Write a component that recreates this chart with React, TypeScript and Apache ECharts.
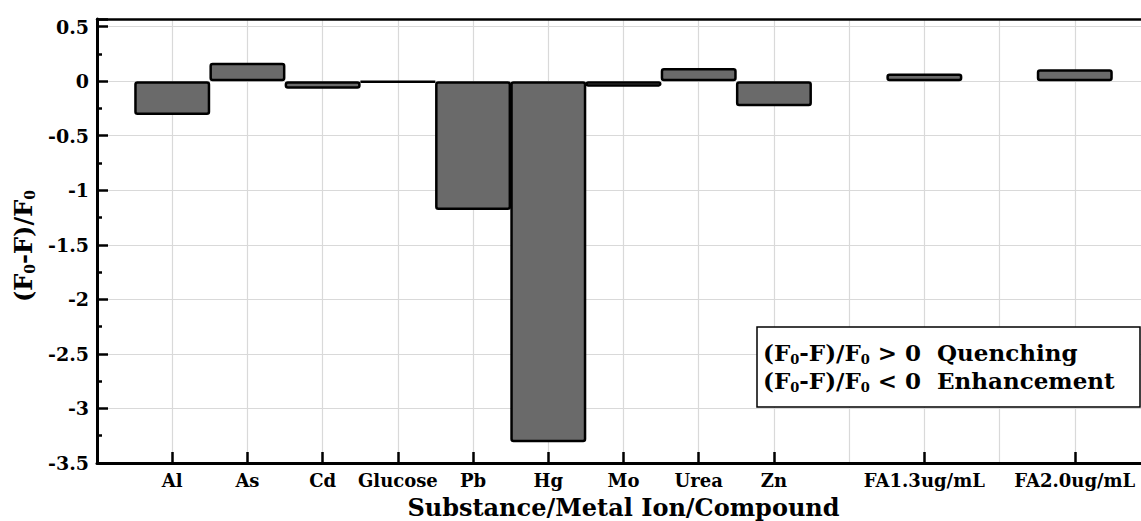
import React, { useEffect, useRef } from "react";
import * as echarts from "echarts";

const categories = ["Al", "As", "Cd", "Glucose", "Pb", "Hg", "Mo", "Urea", "Zn", "", "FA1.3ug/mL", "", "FA2.0ug/mL"];
const values: (number | null)[] = [-0.31, 0.17, -0.07, -0.01, -1.18, -3.31, -0.05, 0.12, -0.23, null, 0.07, null, 0.11];
const xTitle = "Substance/Metal Ion/Compound";
const legendLines = [" > 0  Quenching", " < 0  Enhancement"];

const FONT = "DejaVu Serif";

export default function App() {
  const ref = useRef<HTMLDivElement>(null);
  useEffect(() => {
    if (!ref.current) return;
    const chart = echarts.init(ref.current, undefined, { renderer: "svg" });
    // one empty slot before the first category and one after the last
    const slotNames = ["", ...categories, ""];
    const slotValues = [null, ...values, null];
    const ratioRich = {
      m: { fontFamily: FONT, fontWeight: "bold", fontSize: 23, lineHeight: 28, fill: "#000", color: "#000" },
      s: { fontFamily: FONT, fontWeight: "bold", fontSize: 13, lineHeight: 14, verticalAlign: "bottom", fill: "#000", color: "#000" },
    };
    const legendText = legendLines
      .map((t) => `{m|(F}{s|0}{m|-F)/F}{s|0}{m|${t}}`)
      .join("\n");
    chart.setOption({
      animation: false,
      backgroundColor: "#fff",
      grid: { left: 97, top: 19, right: 0, bottom: 58, containLabel: false, outerBoundsMode: "none" },
      xAxis: [
        {
          type: "category",
          data: slotNames,
          boundaryGap: false,
          position: "bottom",
          axisLine: { show: true, onZero: false, lineStyle: { color: "#000", width: 3 } },
          axisTick: {
            show: true,
            inside: true,
            length: 11,
            interval: (_i: number, v: string) => v !== "",
            lineStyle: { color: "#000", width: 2.5 },
          },
          axisLabel: { show: true, interval: 0, fontFamily: FONT, fontWeight: "bold", fontSize: 18, color: "#000", margin: 8 },
          splitLine: { show: true, interval: 0, lineStyle: { color: "#d9d9d9", width: 1.2 } },
          name: xTitle,
          nameLocation: "middle",
          nameGap: 32,
          nameTextStyle: { fontFamily: FONT, fontWeight: "bold", fontSize: 24, color: "#000" },
        },
        {
          type: "category",
          data: slotNames,
          boundaryGap: false,
          position: "top",
          axisLine: { show: true, onZero: false, lineStyle: { color: "#000", width: 2.5 } },
          axisTick: { show: false },
          axisLabel: { show: false },
          splitLine: { show: false },
        },
      ],
      yAxis: {
        type: "value",
        min: -3.5,
        max: 0.57,
        interval: 0.5,
        axisLine: { show: true, onZero: false, lineStyle: { color: "#000", width: 3 } },
        axisTick: { show: true, inside: true, length: 11, lineStyle: { color: "#000", width: 2.5 } },
        minorTick: { show: true, splitNumber: 2, length: 5, lineStyle: { color: "#000", width: 2.5 } },
        axisLabel: {
          show: true,
          fontFamily: FONT,
          fontWeight: "bold",
          fontSize: 19,
          color: "#000",
          margin: 8,
          formatter: (v: number) => (Math.abs(v * 2 - Math.round(v * 2)) < 1e-6 ? String(v) : ""),
        },
        splitLine: { show: true, lineStyle: { color: "#d9d9d9", width: 1.2 } },
        name: "{m|(F}{s|0}{m|-F)/F}{s|0}",
        nameLocation: "middle",
        nameGap: 56,
        nameRotate: 90,
        nameTextStyle: {
          padding: [0, 0, 0, -10],
          rich: {
            m: { fontFamily: FONT, fontWeight: "bold", fontSize: 24, lineHeight: 28, color: "#000" },
            s: { fontFamily: FONT, fontWeight: "bold", fontSize: 14, lineHeight: 14, verticalAlign: "bottom", color: "#000" },
          },
        },
      },
      series: [
        {
          type: "bar",
          xAxisIndex: 0,
          yAxisIndex: 0,
          data: slotValues,
          barWidth: 76,
          itemStyle: { color: "#6a6a6a", borderColor: "#000", borderWidth: 2.5, borderRadius: 2 },
          z: 3,
        },
      ],
      graphic: [
        { type: "rect", z: 100, shape: { x: 757, y: 327, width: 383, height: 80 }, style: { fill: "#fff", stroke: "#000", lineWidth: 1.5 } },
        { type: "text", z: 101, x: 763, y: 338, style: { text: legendText, rich: ratioRich, fill: "#000" } },
      ],
    });
    return () => chart.dispose();
  }, []);
  return (
    <div style={{ position: "absolute", left: 0, top: 0, width: 1141, height: 521, overflow: "hidden", background: "#fff" }}>
      <div ref={ref} style={{ position: "absolute", left: 0, top: 0, width: 1150, height: 521 }} />
    </div>
  );
}
